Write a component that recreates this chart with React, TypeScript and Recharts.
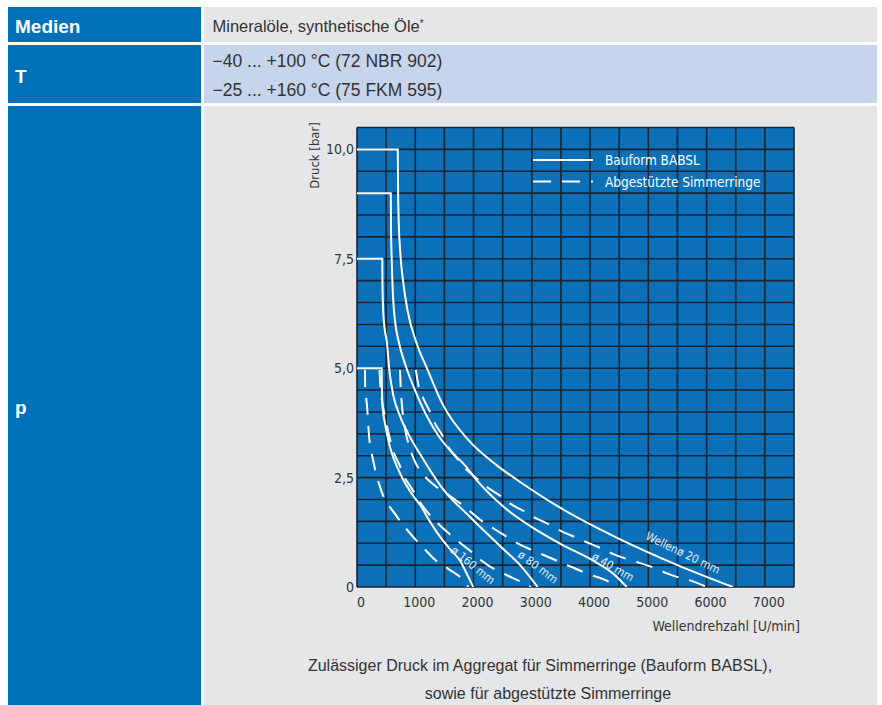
import React from 'react';
import { LineChart, Line, XAxis, YAxis, CartesianGrid, ReferenceDot, Legend } from 'recharts';

// ---------- axis ticks ----------
const xGridTicks = [0, 500, 1000, 1500, 2000, 2500, 3000, 3500, 4000, 4500, 5000, 5500, 6000, 6500, 7000, 7500];
const xTickLabels = [0, 1000, 2000, 3000, 4000, 5000, 6000, 7000];
const yGridTicks = [0, 0.5, 1, 1.5, 2, 2.5, 3, 3.5, 4, 4.5, 5, 5.5, 6, 6.5, 7, 7.5, 8, 8.5, 9, 9.5, 10, 10.5];
const yTickLabels = [0, 2.5, 5, 7.5, 10];

// ---------- Bauform BABSL (solid) : n = U/min, p = bar ----------
const babsl20 = [
  { n: 0, p: 10 }, { n: 700, p: 10 }, { n: 704, p: 9.2 }, { n: 715, p: 8.4 }, { n: 740, p: 7.7 },
  { n: 790, p: 7.0 }, { n: 870, p: 6.3 }, { n: 1015, p: 5.6 }, { n: 1200, p: 5.0 }, { n: 1480, p: 4.15 },
  { n: 1910, p: 3.36 }, { n: 2400, p: 2.78 }, { n: 2800, p: 2.4 }, { n: 3500, p: 1.8 }, { n: 4500, p: 1.1 },
  { n: 5500, p: 0.5 }, { n: 6450, p: 0 },
];
const babsl40 = [
  { n: 0, p: 9 }, { n: 580, p: 9 }, { n: 583, p: 8.3 }, { n: 595, p: 7.5 }, { n: 620, p: 6.6 },
  { n: 660, p: 6.0 }, { n: 710, p: 5.64 }, { n: 850, p: 5.0 }, { n: 995, p: 4.5 }, { n: 1200, p: 3.9 },
  { n: 1400, p: 3.45 }, { n: 1650, p: 3.05 }, { n: 1853, p: 2.78 }, { n: 2080, p: 2.4 }, { n: 2500, p: 1.85 },
  { n: 3084, p: 1.3 }, { n: 3500, p: 0.98 }, { n: 4056, p: 0.6 }, { n: 4400, p: 0.3 }, { n: 4630, p: 0 },
];
const babsl80 = [
  { n: 0, p: 7.5 }, { n: 434, p: 7.5 }, { n: 437, p: 6.9 }, { n: 450, p: 6.3 }, { n: 475, p: 5.9 },
  { n: 510, p: 5.62 }, { n: 560, p: 4.9 }, { n: 620, p: 4.4 }, { n: 740, p: 3.9 }, { n: 880, p: 3.5 },
  { n: 1100, p: 3.0 }, { n: 1470, p: 2.25 }, { n: 1940, p: 1.6 }, { n: 2500, p: 0.88 }, { n: 2800, p: 0.5 },
  { n: 3100, p: 0 },
];
const babsl160 = [
  { n: 0, p: 5 }, { n: 424, p: 5 }, { n: 426, p: 4.6 }, { n: 440, p: 4.1 }, { n: 480, p: 3.74 },
  { n: 566, p: 3.2 }, { n: 738, p: 2.6 }, { n: 966, p: 2.08 }, { n: 1081, p: 1.88 }, { n: 1250, p: 1.5 },
  { n: 1424, p: 1.15 }, { n: 1600, p: 0.86 }, { n: 1768, p: 0.6 }, { n: 1900, p: 0.26 }, { n: 1995, p: 0 },
];

// ---------- Abgestützte Simmerringe (dashed) ----------
const support20 = [
  { n: 1010, p: 4.96 }, { n: 1052, p: 4.62 }, { n: 1138, p: 4.31 }, { n: 1253, p: 4.0 }, { n: 1338, p: 3.74 },
  { n: 1481, p: 3.43 }, { n: 1567, p: 3.2 }, { n: 1739, p: 2.9 }, { n: 1853, p: 2.72 }, { n: 2082, p: 2.45 },
  { n: 2225, p: 2.29 }, { n: 2483, p: 2.06 }, { n: 2625, p: 1.91 }, { n: 2883, p: 1.72 }, { n: 3043, p: 1.59 },
  { n: 3312, p: 1.42 }, { n: 3472, p: 1.3 }, { n: 3741, p: 1.14 }, { n: 3912, p: 1.04 }, { n: 4199, p: 0.88 },
  { n: 4370, p: 0.77 }, { n: 4656, p: 0.63 }, { n: 4827, p: 0.56 }, { n: 5114, p: 0.43 }, { n: 5285, p: 0.33 },
  { n: 5543, p: 0.21 }, { n: 5743, p: 0.14 }, { n: 6000, p: 0 },
];
const support40 = [
  { n: 738, p: 4.96 }, { n: 750, p: 4.55 }, { n: 775, p: 4.1 }, { n: 820, p: 3.65 }, { n: 900, p: 3.2 },
  { n: 1000, p: 2.85 }, { n: 1150, p: 2.55 }, { n: 1350, p: 2.3 }, { n: 1596, p: 2.08 }, { n: 1824, p: 1.86 },
  { n: 2100, p: 1.55 }, { n: 2450, p: 1.25 }, { n: 2797, p: 0.97 }, { n: 3084, p: 0.8 }, { n: 3484, p: 0.57 },
  { n: 3941, p: 0.31 }, { n: 4400, p: 0.04 }, { n: 4420, p: 0 },
];
const support80 = [
  { n: 386, p: 4.96 }, { n: 400, p: 4.6 }, { n: 424, p: 4.3 }, { n: 469, p: 3.97 }, { n: 510, p: 3.7 },
  { n: 566, p: 3.38 }, { n: 623, p: 3.1 }, { n: 726, p: 2.8 }, { n: 800, p: 2.55 }, { n: 940, p: 2.25 },
  { n: 1100, p: 1.9 }, { n: 1368, p: 1.48 }, { n: 1596, p: 1.2 }, { n: 1739, p: 1.04 }, { n: 1968, p: 0.8 },
  { n: 2140, p: 0.6 }, { n: 2368, p: 0.4 }, { n: 2557, p: 0.28 }, { n: 2797, p: 0.13 }, { n: 2990, p: 0 },
];
const support160 = [
  { n: 137, p: 4.96 }, { n: 140, p: 4.6 }, { n: 172, p: 4.14 }, { n: 206, p: 3.47 }, { n: 280, p: 2.88 },
  { n: 412, p: 2.22 }, { n: 652, p: 1.67 }, { n: 927, p: 1.2 }, { n: 1150, p: 0.88 }, { n: 1340, p: 0.62 },
  { n: 1560, p: 0.42 }, { n: 1790, p: 0.2 }, { n: 1910, p: 0 },
];

const solidSeries = [babsl20, babsl40, babsl80, babsl160];
const dashedSeries = [support20, support40, support80, support160];

// curve annotations (anchor in data units + text angle)
const curveLabels = [
  { text: 'ø 160 mm', n: 1990, p: 0.5, angle: 39 },
  { text: 'ø 80 mm', n: 3106, p: 0.46, angle: 37 },
  { text: 'ø 40 mm', n: 4393, p: 0.46, angle: 30 },
  { text: 'Wellenø 20 mm', n: 5594, p: 0.78, angle: 26 },
];

const legendLabels = ['Bauform BABSL', 'Abgestützte Simmerringe'];

const NARROW = '"Liberation Sans Narrow", "Arial Narrow", "DejaVu Sans Condensed", "Liberation Sans", sans-serif';
const SANS = '"Liberation Sans", Arial, sans-serif';
const BLUE = '#0070b9';
const PLOT_BLUE = '#0b70b8';
const GRAY = '#e5e6e8';
const LIGHTBLUE = '#c6d4ec';
const TEXT = '#333333';

const fmtY = (v: number) => (v === 0 ? '0' : v.toFixed(1).replace('.', ','));

const XTick = (props: any) => {
  const { x, y, payload } = props;
  if (!xTickLabels.includes(payload.value)) return <g />;
  return (
    <text x={x + 4} y={y} dy="0.71em" textAnchor="middle" fill={TEXT} fontSize={14} fontFamily={NARROW}>
      {String(payload.value)}
    </text>
  );
};

const YTick = (props: any) => {
  const { x, y, payload } = props;
  if (!yTickLabels.includes(payload.value)) return <g />;
  return (
    <text x={x} y={y} dominantBaseline="central" textAnchor="end" fill={TEXT} fontSize={14} fontFamily={NARROW}>
      {fmtY(payload.value)}
    </text>
  );
};

const LegendContent = () => (
  <svg width={220} height={44} style={{ display: 'block', overflow: 'visible' }}>
    <line x1={0} x2={60} y1={10} y2={10} stroke="#fff" strokeWidth={2} />
    <line x1={0} x2={60} y1={31.5} y2={31.5} stroke="#fff" strokeWidth={2} strokeDasharray="18 11" />
    <text x={72} y={10} dominantBaseline="central" fill="#fff" fontSize={13.5} fontFamily={NARROW}>{legendLabels[0]}</text>
    <text x={72} y={31.5} dominantBaseline="central" fill="#fff" fontSize={13.5} fontFamily={NARROW}>{legendLabels[1]}</text>
  </svg>
);

const cell = (left: number, top: number, width: number, height: number, bg: string): React.CSSProperties => ({
  position: 'absolute', left, top, width, height, background: bg,
});

export default function App() {
  return (
    <div style={{ position: 'fixed', left: 0, top: 0, width: 882, height: 705, overflow: 'hidden', background: '#fff' }}>
      {/* left column */}
      <div style={cell(8, 7, 193, 35, BLUE)} />
      <div style={cell(8, 45, 193, 58, BLUE)} />
      <div style={cell(8, 106, 193, 610, BLUE)} />
      {/* right column */}
      <div style={cell(204, 7, 673, 35, GRAY)} />
      <div style={cell(204, 45, 673, 58, LIGHTBLUE)} />
      <div style={cell(204, 106, 673, 610, GRAY)} />

      <div style={{ position: 'absolute', left: 15, top: 15.5, fontFamily: SANS, fontWeight: 700, fontSize: 19, lineHeight: '22px', color: '#fff' }}>Medien</div>
      <div style={{ position: 'absolute', left: 15, top: 65.5, fontFamily: SANS, fontWeight: 700, fontSize: 19, lineHeight: '22px', color: '#fff' }}>T</div>
      <div style={{ position: 'absolute', left: 15, top: 397, fontFamily: SANS, fontWeight: 700, fontSize: 19, lineHeight: '22px', color: '#fff' }}>p</div>

      <div style={{ position: 'absolute', left: 212.5, top: 16, fontFamily: SANS, fontSize: 16.5, lineHeight: '20px', color: TEXT, whiteSpace: 'nowrap' }}>
        Mineralöle, synthetische Öle<sup style={{ fontSize: 10, verticalAlign: 'top', position: 'relative', top: -2 }}>*</sup>
      </div>
      <div style={{ position: 'absolute', left: 212.5, top: 51, fontFamily: SANS, fontSize: 17.5, lineHeight: '20px', color: TEXT, whiteSpace: 'nowrap' }}>
        −40 ... +100 °C (72 NBR 902)
      </div>
      <div style={{ position: 'absolute', left: 212.5, top: 80, fontFamily: SANS, fontSize: 17.5, lineHeight: '20px', color: TEXT, whiteSpace: 'nowrap' }}>
        −25 ... +160 °C (75 FKM 595)
      </div>

      <div style={{ position: 'absolute', left: 240, width: 600, top: 656, fontFamily: SANS, fontSize: 16, lineHeight: '20px', color: TEXT, textAlign: 'center', whiteSpace: 'nowrap' }}>
        Zulässiger Druck im Aggregat für Simmerringe (Bauform BABSL),
      </div>
      <div style={{ position: 'absolute', left: 248, width: 600, top: 684, fontFamily: SANS, fontSize: 16, lineHeight: '20px', color: TEXT, textAlign: 'center', whiteSpace: 'nowrap' }}>
        sowie für abgestützte Simmerringe
      </div>

      <div style={{ position: 'absolute', left: 290, top: 115 }}>
        <LineChart width={530} height={530} margin={{ top: 12.5, right: 26, bottom: 28, left: 0 }}>
          <CartesianGrid fill={PLOT_BLUE} fillOpacity={1} stroke="#1a2533" strokeWidth={1.6} />
          <XAxis
            dataKey="n"
            type="number"
            domain={[0, 7500]}
            ticks={xGridTicks}
            interval={0}
            allowDataOverflow
            height={30}
            tickLine={false}
            axisLine={false}
            tickSize={6}
            tickMargin={4}
            tick={<XTick />}
            label={{
              value: 'Wellendrehzahl [U/min]',
              content: (p: any) => {
                const vb = p.viewBox || { x: 67, y: 471.5, width: 437, height: 30 };
                return (
                  <text x={vb.x + vb.width + 6} y={vb.y + 38.5} textAnchor="end" dominantBaseline="central" fill={TEXT} fontSize={14} fontFamily={NARROW}>
                    Wellendrehzahl [U/min]
                  </text>
                );
              },
            }}
          />
          <YAxis
            dataKey="p"
            type="number"
            domain={[0, 10.5]}
            ticks={yGridTicks}
            interval={0}
            allowDataOverflow
            width={67}
            tickLine={false}
            axisLine={false}
            tickSize={2}
            tickMargin={1}
            tick={<YTick />}
            label={{
              value: 'Druck [bar]',
              content: (p: any) => {
                const vb = p.viewBox || { x: 0, y: 12.5, width: 67, height: 459.5 };
                const cx = vb.x + 24;
                const cy = vb.y + 28;
                return (
                  <text x={cx} y={cy} transform={`rotate(-90 ${cx} ${cy})`} textAnchor="middle" dominantBaseline="central" fill={TEXT} fontSize={13} fontFamily={NARROW}>
                    Druck [bar]
                  </text>
                );
              },
            }}
          />
          {solidSeries.map((d, i) => (
            <Line key={'s' + i} data={d} dataKey="p" type="monotone" stroke="#ffffff" strokeWidth={2} dot={false} activeDot={false} isAnimationActive={false} name={legendLabels[0]} />
          ))}
          {dashedSeries.map((d, i) => (
            <Line key={'d' + i} data={d} dataKey="p" type="monotone" stroke="#ffffff" strokeWidth={2} strokeDasharray="17 11" dot={false} activeDot={false} isAnimationActive={false} name={legendLabels[1]} />
          ))}
          {curveLabels.map((l) => (
            <ReferenceDot
              key={l.text}
              x={l.n}
              y={l.p}
              r={0}
              fill="none"
              stroke="none"
              shape={(sp: any) => (
                <text x={sp.cx} y={sp.cy} transform={`rotate(${l.angle} ${sp.cx} ${sp.cy})`} textAnchor="middle" dominantBaseline="central" fill="#e6eef8" fontSize={11.5} fontFamily={NARROW}>
                  {l.text}
                </text>
              )}
            />
          ))}
          <Legend
            layout="vertical"
            align="center"
            verticalAlign="middle"
            content={<LegendContent />}
            wrapperStyle={{ position: 'absolute', left: 243.3, top: 35, width: 220, height: 44 }}
          />
        </LineChart>
      </div>
    </div>
  );
}
